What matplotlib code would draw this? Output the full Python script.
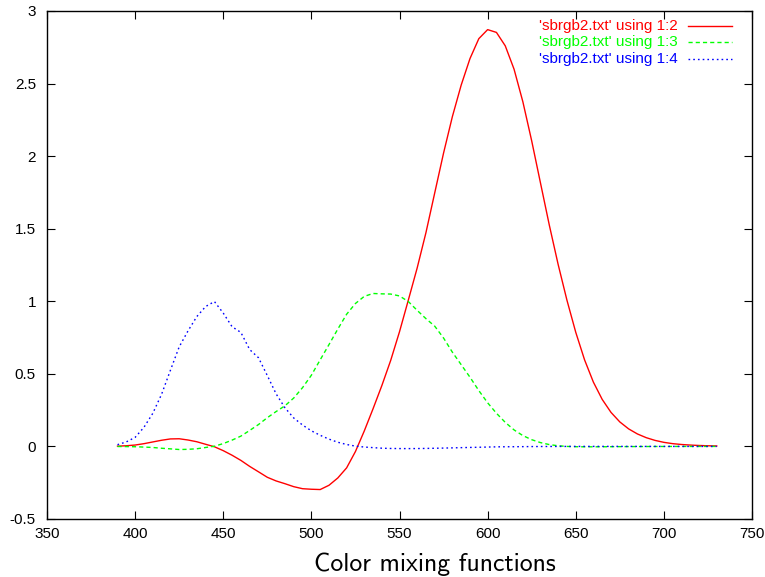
import matplotlib
matplotlib.use("Agg")
import matplotlib.pyplot as plt
from matplotlib.lines import Line2D

plt.rcParams['axes.unicode_minus'] = False

# Stiles & Burch (1955) 2-degree RGB colour matching functions
wavelength = [390, 395, 400, 405, 410, 415, 420, 425, 430, 435, 440, 445, 450, 455,
              460, 465, 470, 475, 480, 485, 490, 495, 500, 505, 510, 515, 520, 525,
              530, 535, 540, 545, 550, 555, 560, 565, 570, 575, 580, 585, 590, 595,
              600, 605, 610, 615, 620, 625, 630, 635, 640, 645, 650, 655, 660, 665,
              670, 675, 680, 685, 690, 695, 700, 705, 710, 715, 720, 725, 730]

r_bar = [0.00184, 0.00462, 0.00963, 0.01898, 0.03080, 0.04246, 0.05166, 0.05284,
         0.04429, 0.03222, 0.01476, -0.00234, -0.02913, -0.06068, -0.09622, -0.13759,
         -0.17486, -0.21260, -0.23780, -0.25674, -0.27727, -0.29125, -0.29500, -0.29706,
         -0.26759, -0.21725, -0.14768, -0.03518, 0.10614, 0.25981, 0.41976, 0.59259,
         0.79004, 1.00780, 1.22830, 1.47270, 1.74760, 2.02140, 2.27240, 2.48960,
         2.67250, 2.80930, 2.87170, 2.85250, 2.76010, 2.59890, 2.37430, 2.10540,
         1.81450, 1.52470, 1.25430, 1.00760, 0.78642, 0.59659, 0.44320, 0.32410,
         0.23455, 0.16884, 0.12086, 0.08581, 0.06026, 0.04148, 0.02811, 0.01912,
         0.01331, 0.00941, 0.00652, 0.00454, 0.00317]

g_bar = [-0.00045, -0.00105, -0.00217, -0.00443, -0.00720, -0.01258, -0.01665, -0.02124,
         -0.01994, -0.01610, -0.00735, 0.00137, 0.01961, 0.04346, 0.07095, 0.11022,
         0.15088, 0.19794, 0.24042, 0.27993, 0.33353, 0.40521, 0.49060, 0.59673,
         0.70184, 0.80852, 0.91076, 0.98482, 1.03390, 1.05380, 1.05120, 1.04980,
         1.03680, 0.99826, 0.93783, 0.88039, 0.82835, 0.74686, 0.64930, 0.56317,
         0.47675, 0.38484, 0.30069, 0.22853, 0.16575, 0.11373, 0.07468, 0.04650,
         0.02633, 0.01272, 0.00450, 0.00010, -0.00196, -0.00263, -0.00263, -0.00230,
         -0.00187, -0.00144, -0.00108, -0.00079, -0.00057, -0.00039, -0.00026, -0.00018,
         -0.00012, -0.00009, -0.00006, -0.00004, -0.00003]

b_bar = [0.01215, 0.03111, 0.06237, 0.13161, 0.22750, 0.35897, 0.52396, 0.68586,
         0.79604, 0.89459, 0.96395, 0.99814, 0.91875, 0.82487, 0.78554, 0.66723,
         0.61098, 0.48829, 0.36195, 0.26634, 0.19593, 0.14730, 0.10749, 0.07671,
         0.05025, 0.02878, 0.01331, 0.00212, -0.00416, -0.00830, -0.01219, -0.01404,
         -0.01468, -0.01495, -0.01461, -0.01378, -0.01265, -0.01136, -0.00993, -0.00841,
         -0.00702, -0.00574, -0.00427, -0.00291, -0.00227, -0.00200, -0.00151, -0.00094,
         -0.00055, -0.00032, -0.00014, -0.00000, 0.00011, 0.00019, 0.00023, 0.00022,
         0.00016, 0.00010, 0.00005, 0.00004, 0.00003, 0.00002, 0.00002, 0.00001,
         0.00001, 0.00001, 0.00001, 0.00001, 0.00000]

labels = ["'sbrgb2.txt' using 1:2", "'sbrgb2.txt' using 1:3", "'sbrgb2.txt' using 1:4"]
colors = ["#ff0000", "#00ff00", "#0000ff"]
styles = ["-", (0, (3.0, 2.2)), (0, (1.2, 2.2))]

x_ticks = [350, 400, 450, 500, 550, 600, 650, 700, 750]
y_ticks = [-0.5, 0, 0.5, 1, 1.5, 2, 2.5, 3]
y_tick_labels = ["-0.5", "0", "0.5", "1", "1.5", "2", "2.5", "3"]
x_title = "Color mixing functions"

W, H = 765, 577
fig = plt.figure(figsize=(W / 100, H / 100), dpi=100)
ax = fig.add_axes([47 / W, 1 - 519 / H, (752 - 47) / W, (519 - 11) / H])

for ys, lab, c, ls in zip([r_bar, g_bar, b_bar], labels, colors, styles):
    ax.plot(wavelength, ys, color=c, linestyle=ls, linewidth=1.0, label=lab)

ax.set_xlim(350, 750)
ax.set_ylim(-0.5, 3)
ax.set_xticks(x_ticks)
ax.set_xticklabels([str(t) for t in x_ticks])
ax.set_yticks(y_ticks)
ax.set_yticklabels(y_tick_labels)

sans = ["Liberation Sans", "DejaVu Sans"]
for lbl in ax.get_xticklabels() + ax.get_yticklabels():
    lbl.set_fontfamily(sans)
    lbl.set_fontsize(11)

ax.tick_params(axis="x", direction="in", length=6, width=0.8, top=True,
               colors="black", pad=6)
ax.tick_params(axis="y", direction="in", length=6, width=0.8, right=True,
               colors="black", pad=8)
for s in ax.spines.values():
    s.set_linewidth(1.0)
    s.set_color("black")

# axis title, set slightly right of the axes centre
fig.text(434.5 / W, 1 - 570.5 / H, x_title, fontsize=18.5,
         family=["cmss10", "DejaVu Sans"], ha="center", va="baseline")

# legend: right-aligned labels with line samples on the right
trans = ax.transAxes
for i, (lab, c, ls) in enumerate(zip(labels, colors, styles)):
    yy = 26 + i * 16.3
    yf = 1 - (yy - 11) / 508
    ax.text((678 - 47) / 705, yf, lab, color=c, ha="right", va="center",
            fontsize=11, family=sans, transform=trans)
    ax.add_line(Line2D([(688 - 47) / 705, (732 - 47) / 705], [yf, yf], color=c,
                       linestyle=ls, linewidth=1.0, transform=trans))

fig.savefig("out.png", dpi=100, facecolor="white")
